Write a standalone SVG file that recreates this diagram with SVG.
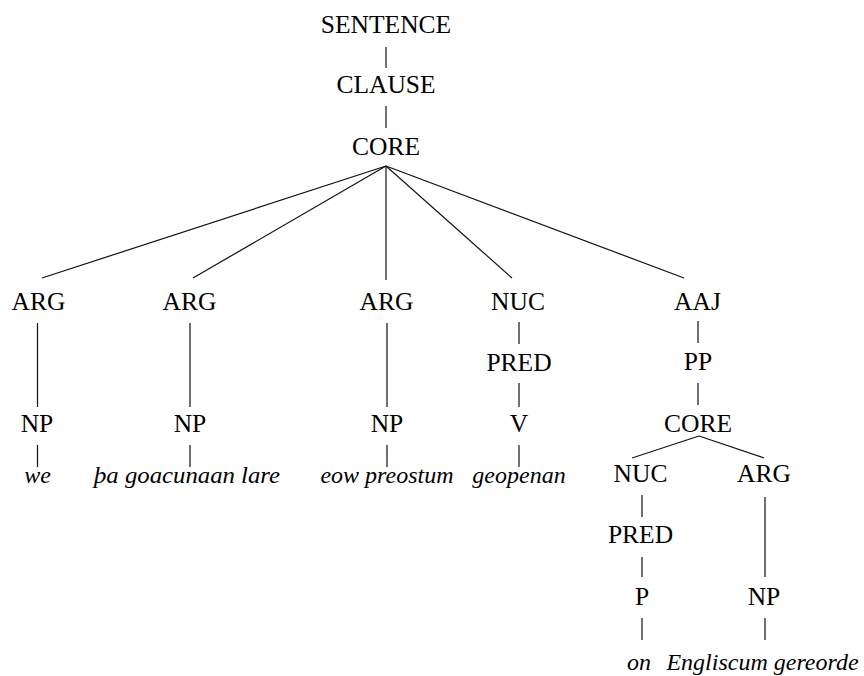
<svg xmlns="http://www.w3.org/2000/svg" width="864" height="676" viewBox="0 0 864 676">
  <style>
    .lbl { font-size: 25.5px; fill: #000; text-anchor: middle; }
    .leaf { font-size: 24px; font-style: italic; fill: #000; text-anchor: middle; }
    .edges line { stroke: #111; stroke-width: 1.2; }
  </style>
  <rect width="864" height="676" fill="#fff"/>

  <g id="edges" class="edges">
    <line x1="386" y1="47" x2="386" y2="68"/>
    <line x1="386" y1="106" x2="386" y2="128"/>
    <!-- CORE fan-out -->
    <line x1="386" y1="166" x2="42" y2="278"/>
    <line x1="386" y1="166" x2="193" y2="278"/>
    <line x1="386" y1="166" x2="386" y2="280"/>
    <line x1="386" y1="166" x2="512" y2="278"/>
    <line x1="386" y1="166" x2="684" y2="278"/>
    <!-- ARG to NP -->
    <line x1="37.5" y1="323" x2="37.5" y2="407"/>
    <line x1="190" y1="323" x2="190" y2="407"/>
    <line x1="387" y1="323" x2="387" y2="407"/>
    <!-- NUC, PRED, V -->
    <line x1="519" y1="322" x2="519" y2="344"/>
    <line x1="519" y1="383" x2="519" y2="407"/>
    <!-- AAJ, PP, CORE -->
    <line x1="698" y1="321" x2="698" y2="343"/>
    <line x1="698" y1="383" x2="698" y2="405"/>
    <!-- leaves of first row -->
    <line x1="37.5" y1="445" x2="37.5" y2="467"/>
    <line x1="190" y1="445" x2="190" y2="467"/>
    <line x1="387" y1="445" x2="387" y2="467"/>
    <line x1="519" y1="445" x2="519" y2="467"/>
    <!-- embedded CORE -->
    <line x1="699" y1="436" x2="632" y2="458"/>
    <line x1="699" y1="436" x2="764" y2="458"/>
    <line x1="642" y1="495" x2="642" y2="517"/>
    <line x1="642" y1="557" x2="642" y2="577"/>
    <line x1="765" y1="497" x2="765" y2="577"/>
    <line x1="642" y1="618" x2="642" y2="640"/>
    <line x1="765" y1="618" x2="765" y2="640"/>
  </g>

  <g font-family="'Liberation Serif', 'DejaVu Serif', serif">
  <g id="sentence"><text class="lbl" x="386" y="33">SENTENCE</text></g>
  <g id="clause"><text class="lbl" x="386" y="93">CLAUSE</text></g>
  <g id="core"><text class="lbl" x="386" y="155">CORE</text></g>

  <g id="arg1"><text class="lbl" x="38.5" y="310">ARG</text></g>
  <g id="arg2"><text class="lbl" x="189.5" y="310">ARG</text></g>
  <g id="arg3"><text class="lbl" x="386.5" y="310">ARG</text></g>
  <g id="nuc"><text class="lbl" x="518" y="310">NUC</text></g>
  <g id="aaj"><text class="lbl" x="697.5" y="310">AAJ</text></g>

  <g id="pred"><text class="lbl" x="519" y="371">PRED</text></g>
  <g id="pp"><text class="lbl" x="698" y="370">PP</text></g>

  <g id="np1"><text class="lbl" x="37" y="432">NP</text></g>
  <g id="np2"><text class="lbl" x="190" y="432">NP</text></g>
  <g id="np3"><text class="lbl" x="387" y="432">NP</text></g>
  <g id="v"><text class="lbl" x="519" y="432">V</text></g>
  <g id="core2"><text class="lbl" x="698" y="432">CORE</text></g>

  <g id="leaf-we"><text class="leaf" x="37.5" y="483">we</text></g>
  <g id="leaf-tha"><text class="leaf" x="187" y="483" textLength="186" lengthAdjust="spacingAndGlyphs">þa goacunaan lare</text></g>
  <g id="leaf-eow"><text class="leaf" x="387" y="483">eow preostum</text></g>
  <g id="leaf-geopenan"><text class="leaf" x="519" y="483">geopenan</text></g>

  <g id="nuc2"><text class="lbl" x="640.5" y="482">NUC</text></g>
  <g id="arg4"><text class="lbl" x="764" y="482">ARG</text></g>
  <g id="pred2"><text class="lbl" x="640.5" y="543">PRED</text></g>
  <g id="p"><text class="lbl" x="642" y="605">P</text></g>
  <g id="np4"><text class="lbl" x="764" y="605">NP</text></g>

  <g id="leaf-on"><text class="leaf" x="639" y="670">on</text></g>
  <g id="leaf-engliscum"><text class="leaf" x="762.5" y="670">Engliscum gereorde</text></g>
  </g>
</svg>
